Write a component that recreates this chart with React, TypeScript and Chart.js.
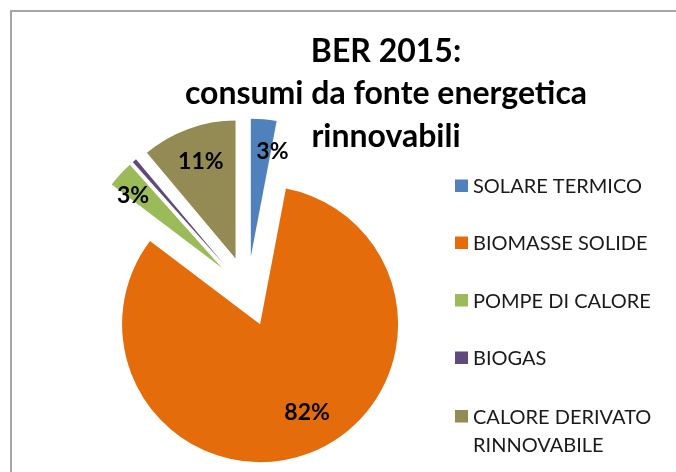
import React, { useEffect, useRef } from 'react';
import { Chart, registerables, ArcElement, PieController } from 'chart.js';

// ---- data ----
const TITLE_LINES = ['BER 2015:', 'consumi da fonte energetica', 'rinnovabili'];
const CATEGORIES = [
  'SOLARE TERMICO',
  'BIOMASSE SOLIDE',
  'POMPE DI CALORE',
  'BIOGAS',
  'CALORE DERIVATO RINNOVABILE',
];
const LEGEND_LINES = [
  ['SOLARE TERMICO'],
  ['BIOMASSE SOLIDE'],
  ['POMPE DI CALORE'],
  ['BIOGAS'],
  ['CALORE DERIVATO', 'RINNOVABILE'],
];
const SHARES = [3.0, 82.3, 3.1, 0.5, 11.1];
const SHOW_LABEL = [true, true, true, false, true];

// ---- styles ----
const COLORS = ['#4F81BD', '#E46C0A', '#9BBB59', '#604A7B', '#948A54'];
// [radius fraction, angle fraction within slice]
const LABEL_PLACE: [number, number][] = [
  [0.783, 1.07],
  [0.721, 0.476],
  [0.834, 0.22],
  [0.75, 0.5],
  [0.752, 0.511],
];

class ExplodedArc extends ArcElement {
  static id = 'explodedArc';
  draw(ctx: CanvasRenderingContext2D) {
    const saved: any = (this as any).options;
    const explode = saved.offset || 0;
    const mid = ((this as any).startAngle + (this as any).endAngle) / 2;
    ctx.save();
    ctx.translate(Math.cos(mid) * explode, Math.sin(mid) * explode);
    (this as any).options = Object.assign({}, saved, { offset: 0 });
    super.draw(ctx);
    (this as any).options = saved;
    ctx.restore();
  }
}

class ExplodedPieController extends PieController {
  static id = 'explodedPie';
  static defaults = { dataElementType: 'explodedArc' };
}

Chart.register(...registerables, ExplodedArc, ExplodedPieController);

const overlay = {
  id: 'overlay',
  afterDraw(chart: any) {
    const ctx: CanvasRenderingContext2D = chart.ctx;
    ctx.save();
    // frame
    ctx.fillStyle = '#A6A6A6';
    ctx.fillRect(10, 10, chart.width - 10, 2);
    ctx.fillRect(10, 10, 2, chart.height - 10);

    // title
    ctx.fillStyle = '#000';
    ctx.font = 'bold 32px Lato';
    ctx.textAlign = 'center';
    ctx.textBaseline = 'alphabetic';
    const titleBase = [61.5, 103.5, 146.5];
    TITLE_LINES.forEach((t, i) => ctx.fillText(t, 386, titleBase[i]));

    // data labels
    const meta = chart.getDatasetMeta(0);
    const total = SHARES.reduce((a, b) => a + b, 0);
    ctx.font = 'bold 23px Lato';
    meta.data.forEach((arc: any, i: number) => {
      if (!SHOW_LABEL[i]) return;
      const { x, y, startAngle, endAngle, outerRadius } = arc.getProps(
        ['x', 'y', 'startAngle', 'endAngle', 'outerRadius'],
        true
      );
      const explode = arc.options.offset || 0;
      const mid = (startAngle + endAngle) / 2;
      const [rf, af] = LABEL_PLACE[i];
      const a = startAngle + af * (endAngle - startAngle);
      const lx = x + Math.cos(mid) * explode + Math.cos(a) * rf * outerRadius;
      const ly = y + Math.sin(mid) * explode + Math.sin(a) * rf * outerRadius;
      ctx.fillText(Math.round((SHARES[i] / total) * 100) + '%', lx, ly + 8);
    });

    // legend
    ctx.textAlign = 'left';
    ctx.font = '20px Lato';
    const rowBase = [193, 250, 307.5, 365, 423.5];
    LEGEND_LINES.forEach((lines, i) => {
      ctx.fillStyle = COLORS[i];
      ctx.fillRect(455, rowBase[i] - 13.5, 13, 12.5);
      ctx.fillStyle = '#1A1A1A';
      lines.forEach((ln, j) => ctx.fillText(ln, 473, rowBase[i] + j * 28));
    });
    ctx.restore();
  },
};

export default function App() {
  const ref = useRef<HTMLCanvasElement | null>(null);
  useEffect(() => {
    if (!ref.current) return;
    const chart = new Chart(ref.current, {
      type: 'explodedPie' as any,
      data: {
        labels: CATEGORIES,
        datasets: [
          {
            data: SHARES,
            backgroundColor: COLORS,
            borderWidth: 0,
            offset: 35,
            radius: 138,
          } as any,
        ],
      },
      options: {
        responsive: false,
        animation: false,
        events: [],
        layout: { padding: { top: 111, right: 181, left: 0, bottom: 0 } },
        plugins: {
          legend: { display: false },
          tooltip: { enabled: false },
          title: { display: false },
        },
      } as any,
      plugins: [overlay],
    });
    return () => chart.destroy();
  }, []);
  return (
    <div style={{ position: 'absolute', left: 0, top: 0, width: 676, height: 472, background: '#fff' }}>
      <canvas ref={ref} width={676} height={472} />
    </div>
  );
}
